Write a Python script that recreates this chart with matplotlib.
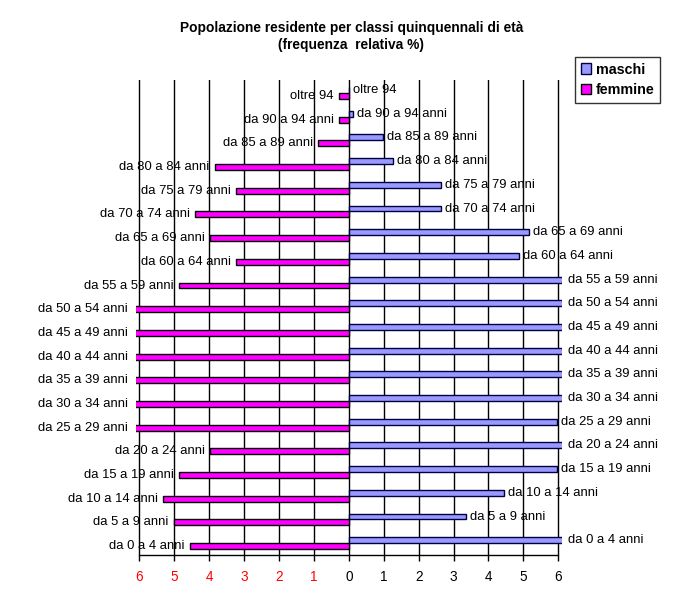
import matplotlib
matplotlib.use("Agg")
import matplotlib.pyplot as plt
import matplotlib.patches as mpatches
import numpy as np

plt.rcParams['font.family'] = ['Liberation Sans', 'DejaVu Sans']

# age classes, bottom to top
classi = ["da 0 a 4 anni", "da 5 a 9 anni", "da 10 a 14 anni", "da 15 a 19 anni",
          "da 20 a 24 anni", "da 25 a 29 anni", "da 30 a 34 anni", "da 35 a 39 anni",
          "da 40 a 44 anni", "da 45 a 49 anni", "da 50 a 54 anni", "da 55 a 59 anni",
          "da 60 a 64 anni", "da 65 a 69 anni", "da 70 a 74 anni", "da 75 a 79 anni",
          "da 80 a 84 anni", "da 85 a 89 anni", "da 90 a 94 anni", "oltre 94"]

# relative frequency % (values beyond 6 are cut off in the original chart)
maschi  = [6.3, 3.37, 4.45, 5.97, 6.3, 5.97, 6.3, 6.3, 6.3, 6.3,
           6.3, 6.3, 4.88, 5.17, 2.65, 2.65, 1.27, 0.97, 0.13, 0.0]
femmine = [4.56, 5.02, 5.33, 4.87, 3.97, 6.3, 6.3, 6.3, 6.3, 6.3,
           6.3, 4.87, 3.23, 3.99, 4.42, 3.23, 3.85, 0.88, 0.29, 0.29]

XMAX = 6.1
tick_pos = list(range(-6, 7))
tick_lab = [str(abs(v)) for v in tick_pos]

COL_M = "#9999ff"
COL_F = "#ff00ff"

fig = plt.figure(figsize=(6.73, 6.0), dpi=100)
ax = fig.add_axes([136 / 673, 1 - 555 / 600, (561.7 - 136) / 673, (555 - 80) / 600])

y = np.arange(len(classi))
h = 0.25
ax.barh(y + h / 2, maschi, height=h, color=COL_M, edgecolor="#000040", linewidth=1.0, zorder=3)
ax.barh(y - h / 2, [-v for v in femmine], height=h, color=COL_F, edgecolor="black", linewidth=1.0, zorder=3)

for yi, lab, m, f in zip(y, classi, maschi, femmine):
    mx = min(m, XMAX)
    ax.annotate(lab, (mx, yi + h / 2), xytext=(6 if m > XMAX else 4, 0), textcoords="offset pixels",
                ha="left", va="center", fontsize=9.4, annotation_clip=False, zorder=4)
    fx = -min(f, XMAX)
    ax.annotate(lab, (fx, yi - h / 2), xytext=(-8 if f > XMAX else -5, 0), textcoords="offset pixels",
                ha="right", va="center", fontsize=9.4, annotation_clip=False, zorder=4)

ax.set_xlim(-XMAX, XMAX)
ax.set_ylim(-0.5, len(classi) - 0.45)
ax.set_yticks([])
ax.set_xticks(tick_pos)
ax.set_xticklabels(tick_lab, fontsize=9.8)
for t, v in zip(ax.get_xticklabels(), tick_pos):
    t.set_color("red" if v < 0 else "black")
ax.tick_params(axis="x", length=4, width=1, pad=7, color="black")
ax.grid(axis="x", color="black", linewidth=1.0, zorder=1)
ax.set_axisbelow(True)
for s in ("top", "right", "left"):
    ax.spines[s].set_visible(False)
ax.spines["bottom"].set_bounds(-6, 6)
ax.spines["bottom"].set_linewidth(1.0)

fig.text(0.522, 1 - 28 / 600, "Popolazione residente per classi quinquennali di età",
         ha="center", va="center", fontsize=9.9, fontweight="bold")
fig.text(0.522, 1 - 45 / 600, "(frequenza  relativa %)",
         ha="center", va="center", fontsize=9.9, fontweight="bold")

handles = [mpatches.Patch(facecolor=COL_M, edgecolor="#000040", label="maschi"),
           mpatches.Patch(facecolor=COL_F, edgecolor="black", label="femmine")]
leg = fig.legend(handles=handles, loc="upper left", bbox_to_anchor=(575 / 673, 1 - 57 / 600),
                 frameon=True, fancybox=False, edgecolor="black",
                 prop={"weight": "bold", "size": 10.3}, handlelength=0.75, handleheight=0.75,
                 handletextpad=0.3, borderpad=0.4, labelspacing=0.45, borderaxespad=0)
leg.get_frame().set_linewidth(1.0)

fig.savefig("out.png", dpi=100)
